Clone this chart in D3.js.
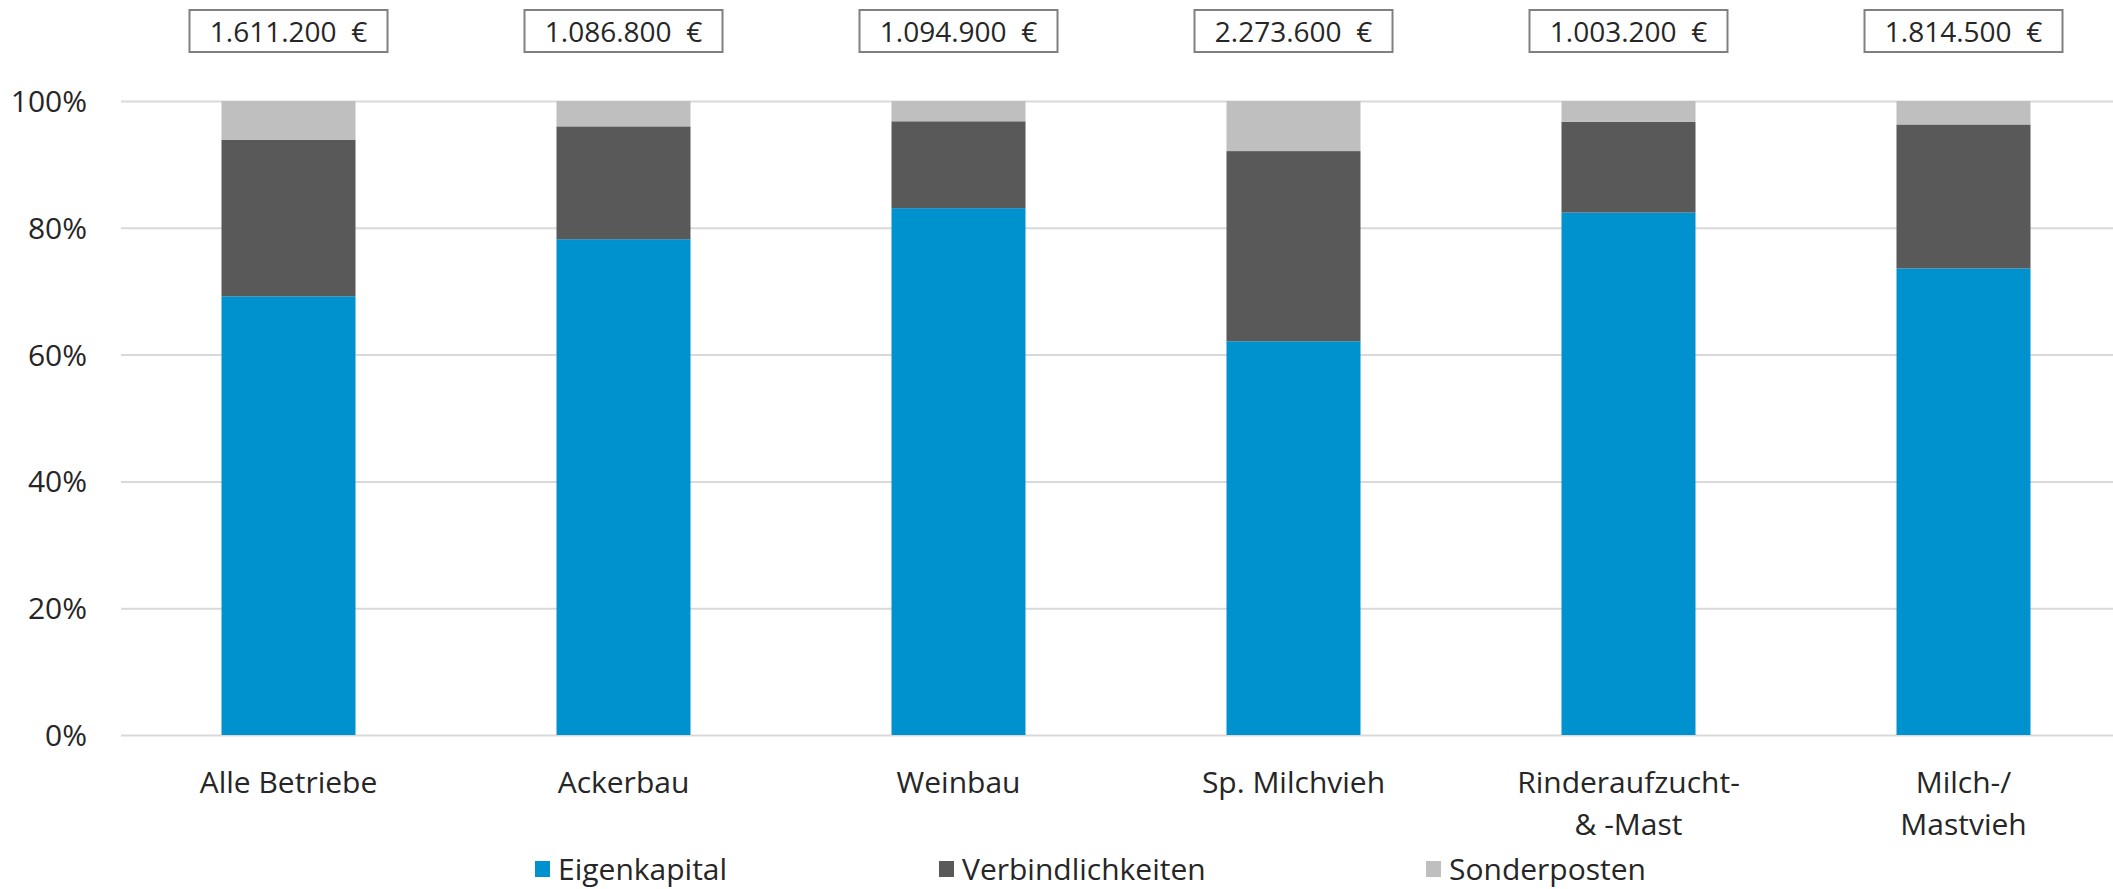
<!DOCTYPE html>
<html>
<head>
<meta charset="utf-8">
<script src="https://cdn.jsdelivr.net/npm/d3@7"></script>
<style>
  body { margin: 0; background: #fff; }
  text { font-family: "Open Sans", "Noto Sans", sans-serif; fill: #262626; }
</style>
</head>
<body>
<script>
//// Constants ///////////////////////////////////////
const WIDTH = 2113
const HEIGHT = 889

// plot area
const PLOT_LEFT = 121
const PLOT_RIGHT = 2131
const PLOT_TOP = 101
const PLOT_BOTTOM = 735

const COLORS = ["#0092cf", "#595959", "#bfbfbf"]

//// Data ////////////////////////////////////////////
const categories = ["Alle Betriebe", "Ackerbau", "Weinbau", "Sp. Milchvieh", "Rinderaufzucht-\n& -Mast", "Milch-/\nMastvieh"]
const series = ["Eigenkapital", "Verbindlichkeiten", "Sonderposten"]
const eigenkapital = [69.2, 78.2, 83.1, 62.1, 82.4, 73.6]
const verbindlichkeiten = [24.7, 17.8, 13.7, 30.0, 14.3, 22.7]
const sonderposten = [6.1, 4.0, 3.2, 7.9, 3.3, 3.7]
const totals = [1611200, 1086800, 1094900, 2273600, 1003200, 1814500]
const yTicks = [0, 20, 40, 60, 80, 100]

const rows = categories.map((c, i) => ({
  cat: c,
  Eigenkapital: eigenkapital[i],
  Verbindlichkeiten: verbindlichkeiten[i],
  Sonderposten: sonderposten[i],
  total: totals[i]
}))

//// Scales //////////////////////////////////////////
const x = d3.scaleBand()
  .domain(categories)
  .range([PLOT_LEFT, PLOT_RIGHT])
  .paddingInner(0.6)
  .paddingOuter(0.3)

const y = d3.scaleLinear()
  .domain([0, 100])
  .range([PLOT_BOTTOM, PLOT_TOP])

const color = d3.scaleOrdinal().domain(series).range(COLORS)

const stacked = d3.stack().keys(series)(rows)

const svg = d3.select("body")
  .append("svg")
  .attr("width", WIDTH)
  .attr("height", HEIGHT)

//// Grid + y axis ////
const yAxis = svg.append("g")
  .attr("transform", `translate(${PLOT_LEFT},0)`)
  .call(d3.axisLeft(y).tickValues(yTicks)
    .tickSize(-(PLOT_RIGHT - PLOT_LEFT))
    .tickPadding(34)
    .tickFormat(d => d + "%"))
yAxis.select(".domain").remove()
yAxis.selectAll(".tick line").attr("stroke", "#d9d9d9").attr("stroke-width", 2)
yAxis.selectAll(".tick text")
  .style("font-size", "30px")
  .attr("dy", "0.35em")

//// Bars ////
svg.append("g")
  .selectAll("g")
  .data(stacked)
  .join("g")
  .attr("fill", d => color(d.key))
  .selectAll("rect")
  .data(d => d)
  .join("rect")
  .attr("x", d => x(d.data.cat))
  .attr("width", x.bandwidth())
  .attr("y", d => y(d[1]))
  .attr("height", d => y(d[0]) - y(d[1]))

//// Category labels ////
const catLabels = svg.append("g")
  .selectAll("text")
  .data(categories)
  .join("text")
  .attr("text-anchor", "middle")
  .attr("x", d => x(d) + x.bandwidth() / 2)
  .attr("y", 793)
  .style("font-size", "30px")
catLabels.selectAll("tspan")
  .data(d => d.split("\n"))
  .join("tspan")
  .attr("x", function () { return d3.select(this.parentNode).attr("x") })
  .attr("dy", (d, i) => i === 0 ? 0 : 42)
  .text(d => d)

//// Totals in boxes ////
const fmt = d3.formatLocale({ decimal: ",", thousands: ".", grouping: [3], currency: ["", " €"] }).format(",d")
const boxes = svg.append("g")
  .selectAll("g")
  .data(rows)
  .join("g")
  .attr("transform", d => `translate(${x(d.cat) + x.bandwidth() / 2},0)`)
boxes.append("rect")
  .attr("x", -99)
  .attr("y", 10)
  .attr("width", 198)
  .attr("height", 42)
  .attr("fill", "#fff")
  .attr("stroke", "#808080")
  .attr("stroke-width", 2)
boxes.append("text")
  .attr("text-anchor", "middle")
  .attr("y", 42)
  .style("font-size", "28px")
  .style("white-space", "pre")
  .text(d => fmt(d.total) + "\u00a0\u00a0€")

//// Legend ////
const legendX = [535, 939, 1426]
const legend = svg.append("g")
  .selectAll("g")
  .data(series)
  .join("g")
  .attr("transform", (d, i) => `translate(${legendX[i]},0)`)
legend.append("rect")
  .attr("y", 861)
  .attr("width", 15)
  .attr("height", 16)
  .attr("fill", d => color(d))
legend.append("text")
  .attr("x", 23)
  .attr("y", 880)
  .style("font-size", "30px")
  .text(d => d)
</script>
</body>
</html>
